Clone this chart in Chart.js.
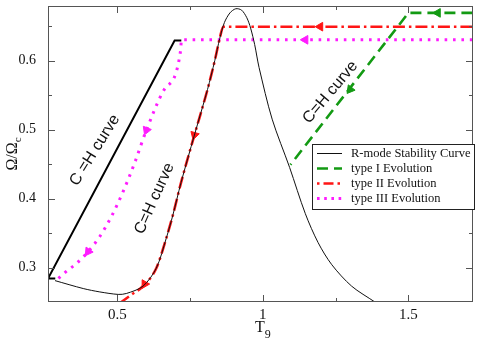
<!DOCTYPE html>
<html><head><meta charset="utf-8">
<script src="https://cdn.jsdelivr.net/npm/chart.js@4"></script>
<style>html,body{margin:0;padding:0;background:#fff}</style>
</head><body><canvas id="c" width="479" height="342"></canvas>
<script>
// ---- data ----
const xTickValues = [0.5, 1, 1.5];
const xTickLabels = ['0.5', '1', '1.5'];
const yTickValues = [0.3, 0.4, 0.5, 0.6];
const yTickLabels = ['0.3', '0.4', '0.5', '0.6'];
const xMinorTicks = [0.75, 1.25];
const yMinorTicks = [0.35, 0.45, 0.55, 0.65];

const seriesNames = ['R-mode Stability Curve', 'type I Evolution', 'type II Evolution', 'type III Evolution'];
const annotationText = ['C =H curve', 'C=H curve', 'C=H curve'];

const stabilityT =     [0.286, 0.383, 0.44, 0.503, 0.531, 0.588, 0.634, 0.668, 0.691, 0.719, 0.765, 0.81, 0.835, 0.852, 0.868, 0.887, 0.907, 0.927, 0.945, 0.958, 0.972, 0.987, 1.032, 1.092, 1.146, 1.19, 1.237, 1.305, 1.385];
const stabilityOmega = [0.281, 0.2695, 0.2646, 0.261, 0.2623, 0.2728, 0.299, 0.342, 0.376, 0.423, 0.492, 0.558, 0.6, 0.632, 0.655, 0.669, 0.675, 0.673, 0.662, 0.647, 0.623, 0.59, 0.515, 0.445, 0.378, 0.336, 0.304, 0.273, 0.25];

const chT =     [0.287, 0.262, 0.697, 0.72];
const chOmega = [0.284, 0.284, 0.629, 0.629];

const typeIT =     [1.72, 1.5, 1.095];
const typeIOmega = [0.669, 0.669, 0.449];

const typeIIT =     [1.72, 0.864, 0.852, 0.835, 0.81, 0.765, 0.719, 0.691, 0.668, 0.634, 0.588, 0.55, 0.514];
const typeIIOmega = [0.649, 0.649, 0.632, 0.6, 0.558, 0.492, 0.423, 0.376, 0.342, 0.299, 0.2728, 0.261, 0.25];

const typeIIIT =     [1.72, 0.72, 0.718, 0.66, 0.6, 0.56, 0.52, 0.48, 0.44, 0.4, 0.36, 0.327, 0.292];
const typeIIIOmega = [0.63, 0.63, 0.616, 0.557, 0.499, 0.452, 0.41, 0.374, 0.345, 0.323, 0.306, 0.295, 0.282];

const typeIArrowT = [1.601, 1.30];
const typeIArrowOmega = [0.669, 0.558];
const typeIArrowAngle = [-90, 218];
const typeIIArrowT = [1.197, 0.765, 0.594];
const typeIIArrowOmega = [0.649, 0.492, 0.276];
const typeIIArrowAngle = [-90, 196, 210];
const typeIIIArrowT = [1.146, 0.6, 0.4];
const typeIIIArrowOmega = [0.63, 0.499, 0.323];
const typeIIIArrowAngle = [-90, 202, 215];

// ---- styles ----
const GREEN = '#139a13', RED = '#ff1515', MAGENTA = '#ff1cff';
const pts = (xs, ys) => xs.map((x, i) => ({x, y: ys[i]}));
const SERIF = '"Liberation Serif", "Times New Roman", serif';
const SANS = '"Liberation Sans", Arial, sans-serif';

const lineDs = (label, xs, ys, color, width, dash, extra) => Object.assign({
  label, data: pts(xs, ys), showLine: true, borderColor: color, backgroundColor: color,
  borderWidth: width, borderDash: dash, pointRadius: 0, pointHoverRadius: 0, tension: 0, fill: false
}, extra || {});
const arrowDs = (xs, ys, angles, color) => ({
  label: '', data: pts(xs, ys), showLine: false, pointStyle: 'triangle',
  pointRadius: 5, pointRotation: angles, backgroundColor: color, borderColor: color, borderWidth: 1, isArrow: true
});

const datasets = [
  lineDs(seriesNames[0], stabilityT, stabilityOmega, '#111', 1, [], {tension: 0.3, legend: true}),
  lineDs(seriesNames[1], typeIT, typeIOmega, GREEN, 2.6, [11, 6], {legend: true}),
  lineDs(seriesNames[2], typeIIT, typeIIOmega, RED, 2.6, [12, 4, 2.5, 4], {cubicInterpolationMode: 'monotone', legend: true}),
  lineDs(seriesNames[3], typeIIIT, typeIIIOmega, MAGENTA, 3, [2.6, 5.8], {cubicInterpolationMode: 'monotone', legend: true}),
  lineDs('C=H', chT, chOmega, '#000', 2, []),
  arrowDs(typeIArrowT, typeIArrowOmega, typeIArrowAngle, GREEN),
  arrowDs(typeIIArrowT, typeIIArrowOmega, typeIIArrowAngle, RED),
  arrowDs(typeIIIArrowT, typeIIIArrowOmega, typeIIIArrowAngle, MAGENTA)
];

const annotations = [
  {t: 0.423, o: 0.47, angle: -58, text: annotationText[0]},
  {t: 0.628, o: 0.40, angle: -66, text: annotationText[1]},
  {t: 1.232, o: 0.554, angle: -50, text: annotationText[2]}
];

const decor = {
  id: 'decor',
  afterDraw(chart) {
    const ctx = chart.ctx, a = chart.chartArea;
    const xs = chart.scales.x, ys = chart.scales.y;
    ctx.save();
    // frame
    ctx.strokeStyle = '#555'; ctx.lineWidth = 1;
    ctx.strokeRect(Math.round(a.left) + 0.5, Math.round(a.top) + 0.5, Math.round(a.right - a.left) - 1, Math.round(a.bottom - a.top) - 1);
    // inward ticks
    ctx.beginPath();
    const tickX = (v, len) => {
      const p = Math.round(xs.getPixelForValue(v)) + 0.5;
      ctx.moveTo(p, a.bottom); ctx.lineTo(p, a.bottom - len);
      ctx.moveTo(p, a.top); ctx.lineTo(p, a.top + len);
    };
    const tickY = (v, len) => {
      const p = Math.round(ys.getPixelForValue(v)) + 0.5;
      ctx.moveTo(a.left, p); ctx.lineTo(a.left + len, p);
      ctx.moveTo(a.right, p); ctx.lineTo(a.right - len, p);
    };
    xTickValues.forEach(v => tickX(v, 7)); xMinorTicks.forEach(v => tickX(v, 4));
    yTickValues.forEach(v => tickY(v, 7)); yMinorTicks.forEach(v => tickY(v, 4));
    ctx.stroke();

    // axis titles
    ctx.fillStyle = '#111';
    ctx.textBaseline = 'alphabetic';
    ctx.font = '16px ' + SERIF;
    const tx = xs.getPixelForValue(1);
    const wT = ctx.measureText('T').width;
    ctx.textAlign = 'left';
    ctx.fillText('T', tx - wT / 2 - 3, 332);
    ctx.font = '12px ' + SERIF;
    ctx.fillText('9', tx - wT / 2 - 3 + wT, 338);
    ctx.save();
    ctx.translate(17, (a.top + a.bottom) / 2);
    ctx.rotate(-Math.PI / 2);
    ctx.font = '16px ' + SERIF;
    const main = 'Ω/Ω';
    const wm = ctx.measureText(main).width;
    ctx.font = '11px ' + SERIF;
    const wc = ctx.measureText('c').width;
    const start = -(wm + wc) / 2;
    ctx.font = '16px ' + SERIF;
    ctx.fillText(main, start, 0);
    ctx.font = '11px ' + SERIF;
    ctx.fillText('c', start + wm, 4);
    ctx.restore();

    // annotations
    ctx.font = '16px ' + SANS;
    ctx.textAlign = 'center'; ctx.textBaseline = 'middle';
    annotations.forEach(an => {
      ctx.save();
      ctx.translate(xs.getPixelForValue(an.t), ys.getPixelForValue(an.o));
      ctx.rotate(an.angle * Math.PI / 180);
      ctx.fillText(an.text, 0, 0);
      ctx.restore();
    });

    // legend
    const lx = 312, ly = 144, lw = 162, lh = 65;
    ctx.fillStyle = '#fff';
    ctx.fillRect(lx, ly, lw, lh);
    ctx.strokeStyle = '#222'; ctx.lineWidth = 1;
    ctx.strokeRect(lx + 0.5, ly + 0.5, lw, lh);
    const items = chart.data.datasets.filter(d => d.legend);
    ctx.textAlign = 'left'; ctx.textBaseline = 'middle';
    ctx.font = '12.5px ' + SERIF;
    items.forEach((d, i) => {
      const yy = 153.5 + i * 15;
      ctx.save();
      ctx.strokeStyle = d.borderColor;
      ctx.lineWidth = i === 0 ? 1 : d.borderWidth;
      let dash = d.borderDash || [];
      if (i === 2) dash = [2.5, 4, 10, 4];
      if (i === 3) dash = [2.6, 4.6];
      ctx.setLineDash(dash);
      ctx.beginPath();
      ctx.moveTo(317, yy); ctx.lineTo(342, yy);
      ctx.stroke();
      ctx.restore();
      ctx.fillStyle = '#111';
      ctx.fillText(d.label, 351, yy + 0.5);
    });
    ctx.restore();
  }
};

new Chart(document.getElementById('c'), {
  type: 'scatter',
  data: {datasets},
  options: {
    responsive: false, animation: false, devicePixelRatio: 1,
    layout: {padding: {top: 3, right: 4, left: 0, bottom: 0}},
    plugins: {legend: {display: false}, tooltip: {enabled: false}},
    elements: {line: {borderCapStyle: 'butt'}},
    scales: {
      x: {
        type: 'linear', min: 0.262, max: 1.722,
        grid: {display: false, drawTicks: false}, border: {display: false},
        afterBuildTicks: s => { s.ticks = xTickValues.map(v => ({value: v})); },
        afterFit: s => { s.height = 40; s.paddingLeft = 0; s.paddingRight = 0; },
        ticks: {padding: 4, color: '#111', font: {family: SERIF, size: 15},
          callback: (v) => xTickLabels[xTickValues.indexOf(v)] ?? ''}
      },
      y: {
        type: 'linear', min: 0.25, max: 0.679,
        grid: {display: false, drawTicks: false}, border: {display: false},
        afterBuildTicks: s => { s.ticks = yTickValues.map(v => ({value: v})); },
        afterFit: s => { s.width = 48; s.paddingTop = 0; s.paddingBottom = 0; },
        ticks: {padding: 12, color: '#111', font: {family: SERIF, size: 14},
          callback: (v) => yTickLabels[yTickValues.indexOf(v)] ?? ''}
      }
    }
  },
  plugins: [decor]
});
</script></body></html>
